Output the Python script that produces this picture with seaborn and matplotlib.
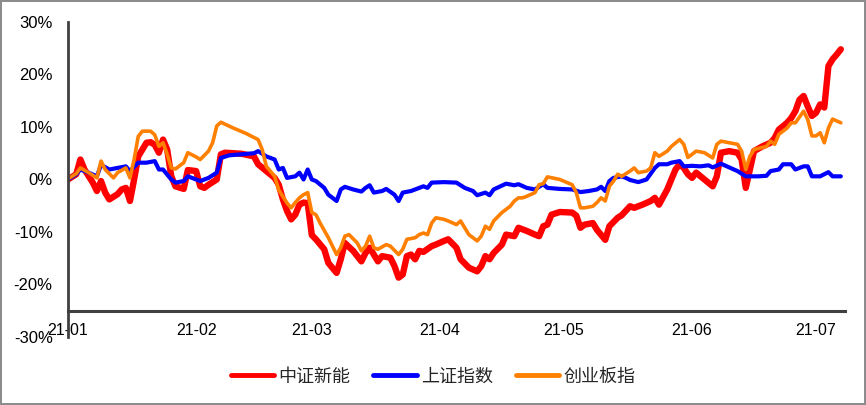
import matplotlib
matplotlib.use("Agg")
import matplotlib.pyplot as plt
import matplotlib.dates as mdates
from matplotlib.ticker import FuncFormatter
import pandas as pd
import seaborn as sns

# ---------------- data (day offset from 2021-01-01, cumulative return %) ----------------
BASE_DATE = "2021-01-01"
series_names = ["中证新能", "上证指数", "创业板指"]

red_day = [0, 2, 3, 4, 6, 7, 8, 9, 10, 12, 13, 14, 15, 16, 17, 19, 20, 21, 22, 23,
           24, 25, 26, 28, 29, 31, 32, 33, 34, 36, 37, 38, 42, 45, 46, 48, 50, 51, 52, 53,
           54, 55, 56, 57, 58, 59, 60, 62, 63, 65, 66, 67, 69, 71, 72, 73, 75, 76, 78, 79,
           80, 81, 82, 83, 84, 85, 86, 88, 89, 91, 92, 94, 95, 97, 99, 100, 101, 102, 103, 105,
           106, 108, 109, 111, 113, 114, 115, 116, 117, 119, 122, 123, 124, 125, 127, 128, 130, 131, 133, 134,
           136, 137, 139, 141, 142, 143, 145, 146, 147, 148, 149, 150, 151, 152, 154, 156, 157, 158, 160, 162,
           163, 164, 165, 166, 168, 170, 171, 172, 174, 175, 176, 177, 178, 179, 180, 181, 182, 183, 184, 185,
           186, 187]
red_val = [0.0, 1.0, 3.8, 1.9, -0.6, -2.2, -0.3, -2.5, -3.8, -2.8, -1.9, -1.6, -4.1, 0.0, 4.4, 7.0, 7.1, 6.6, 5.1, 7.6,
           5.7, 0.6, -1.3, -1.8, 1.8, 1.6, -1.3, -1.6, -1.0, 0.0, 4.8, 5.1, 4.9, 4.4, 2.9, 1.6, 0.3, -1.0, -3.8, -6.0,
           -7.6, -6.7, -4.8, -4.4, -4.5, -10.6, -11.4, -13.3, -15.9, -17.8, -15.2, -12.1, -13.6, -15.6, -14.0, -13.0, -15.6, -14.6, -14.9, -16.5,
           -18.7, -18.1, -14.6, -14.3, -15.2, -13.6, -13.8, -12.7, -12.4, -11.7, -11.4, -13.0, -15.2, -16.8, -17.5, -16.5, -14.6, -15.2, -14.0, -12.4,
           -10.5, -10.8, -9.2, -9.8, -10.5, -10.8, -8.9, -8.6, -6.7, -6.2, -6.3, -6.9, -9.2, -8.6, -8.3, -9.6, -11.5, -8.9, -7.3, -6.8,
           -5.1, -5.4, -4.8, -4.1, -3.5, -4.8, -1.9, 0.0, 1.9, 2.9, 2.2, 1.0, 0.3, 1.3, 0.0, -1.3, 0.6, 5.1, 5.4, 5.1,
           3.8, -1.6, 1.9, 5.4, 6.3, 7.0, 7.9, 9.5, 10.8, 11.7, 13.0, 15.2, 15.9, 13.9, 12.1, 12.7, 14.3, 13.7, 21.6, 22.9,
           23.8, 24.8]

blue_day = [0, 2, 3, 5, 7, 8, 10, 12, 14, 15, 17, 19, 21, 22, 23, 25, 26, 28, 29, 32,
            34, 36, 37, 39, 42, 45, 46, 48, 50, 51, 52, 53, 55, 56, 57, 58, 59, 60, 62, 63,
            65, 66, 67, 69, 71, 72, 73, 74, 76, 77, 79, 80, 81, 83, 84, 86, 87, 88, 91, 94,
            96, 98, 99, 101, 102, 103, 106, 108, 109, 111, 113, 115, 116, 119, 122, 124, 126, 128, 129, 130,
            131, 132, 134, 135, 136, 138, 140, 142, 143, 145, 146, 148, 149, 151, 153, 155, 156, 158, 160, 162,
            164, 167, 169, 170, 172, 173, 175, 176, 178, 179, 180, 182, 183, 184, 185, 187]
blue_val = [0.0, 1.0, 1.9, 1.3, 0.6, 2.8, 1.9, 2.2, 2.5, 1.6, 3.2, 3.2, 3.5, 1.9, 1.9, 0.0, -0.6, -0.3, 0.6, -0.3,
            0.3, 1.3, 4.1, 4.6, 4.8, 5.0, 5.4, 4.4, 3.8, 1.9, 2.2, 0.3, 0.6, 1.3, 0.0, 1.9, 0.0, -0.3, -1.6, -2.9,
            -4.1, -1.9, -1.4, -1.9, -2.3, -1.6, -1.1, -2.5, -2.2, -1.8, -2.9, -4.1, -2.5, -2.2, -1.9, -1.3, -1.6, -0.6, -0.5, -0.6,
            -1.6, -2.2, -3.0, -2.5, -3.0, -1.9, -0.8, -1.1, -0.9, -1.6, -1.9, -0.9, -1.6, -1.8, -1.9, -2.4, -2.2, -1.9, -1.4, -2.2,
            -0.3, 0.3, 0.6, 0.3, -0.1, -0.5, 0.0, 2.2, 2.9, 2.9, 3.2, 3.5, 2.5, 2.6, 2.5, 2.7, 2.3, 3.0, 2.3, 1.6,
            0.6, 0.6, 0.7, 1.6, 1.9, 2.9, 2.9, 1.9, 2.5, 2.5, 0.6, 0.6, 1.0, 1.4, 0.6, 0.6]

orange_day = [0, 2, 3, 5, 7, 8, 9, 11, 12, 14, 15, 16, 17, 18, 20, 21, 22, 23, 24, 25,
              26, 28, 29, 31, 32, 34, 35, 36, 37, 40, 43, 46, 47, 48, 50, 51, 53, 54, 55, 56,
              57, 58, 59, 60, 61, 63, 65, 66, 67, 68, 70, 71, 72, 73, 74, 75, 77, 78, 80, 81,
              82, 84, 85, 86, 87, 88, 89, 91, 92, 94, 95, 96, 97, 99, 100, 101, 102, 103, 105, 106,
              107, 108, 109, 110, 111, 113, 114, 115, 116, 119, 122, 123, 124, 125, 127, 128, 129, 130, 131, 132,
              133, 134, 136, 137, 138, 140, 141, 142, 143, 145, 146, 148, 149, 150, 152, 154, 156, 157, 158, 162,
              163, 164, 165, 166, 169, 170, 171, 172, 174, 175, 176, 178, 179, 180, 181, 182, 183, 184, 185, 187]
orange_val = [0.1, 1.1, 2.2, 1.3, 0.3, 3.5, 1.9, 0.3, 1.3, 2.2, 0.3, 3.8, 8.2, 9.2, 9.2, 8.5, 6.3, 7.0, 4.8, 2.2,
              2.0, 3.2, 5.1, 4.3, 3.8, 5.4, 7.0, 10.2, 10.9, 9.8, 8.8, 7.6, 5.7, 2.5, 0.6, -2.0, -4.5, -5.4, -4.4, -3.5,
              -2.9, -2.5, -6.3, -6.7, -8.3, -11.1, -14.3, -13.0, -10.8, -10.5, -12.1, -13.6, -12.7, -10.8, -13.0, -13.3, -12.4, -12.7, -14.3, -13.3,
              -11.4, -11.1, -10.5, -10.2, -10.5, -8.3, -7.3, -7.6, -7.9, -8.6, -7.9, -9.2, -10.5, -11.7, -10.8, -8.9, -9.5, -7.9, -6.3, -5.7,
              -5.1, -4.1, -3.5, -3.5, -3.2, -2.5, -1.0, -0.8, 0.5, 0.0, -1.0, -2.5, -5.4, -5.4, -5.1, -4.4, -3.5, -4.1, -1.3, -0.3,
              1.0, 0.6, 1.6, 2.2, 1.3, 1.6, 2.2, 5.1, 4.4, 5.4, 6.3, 7.6, 6.7, 4.2, 5.4, 5.1, 4.1, 6.7, 7.3, 6.7,
              5.4, 1.9, 4.4, 5.7, 6.3, 7.3, 6.7, 8.6, 9.8, 10.8, 10.8, 13.0, 11.4, 8.3, 8.3, 8.9, 7.0, 9.8, 11.5, 10.8]

y_ticks = [-30, -20, -10, 0, 10, 20, 30]

# ---------------- styling ----------------
sns.set_style("white")
plt.rcParams["font.family"] = ["Liberation Sans", "Noto Sans CJK SC", "DejaVu Sans"]

colors = ["#FF0000", "#0000FF", "#FF8000"]
widths = [4.6, 3.0, 2.6]
spine_color = "#404040"

fig = plt.figure(figsize=(8.66, 4.05), dpi=100, facecolor="white",
                 edgecolor="#8c8c8c", linewidth=1.5)
ax = fig.add_axes([0.0785, 0.168, 0.8972, 0.7777])

base = pd.Timestamp(BASE_DATE)
all_days = [red_day, blue_day, orange_day]
all_vals = [red_val, blue_val, orange_val]
for name, d, v, c, w in zip(series_names, all_days, all_vals, colors, widths):
    df = pd.DataFrame({"date": base + pd.to_timedelta(d, unit="D"), "value": v})
    sns.lineplot(data=df, x="date", y="value", color=c, linewidth=w, ax=ax,
                 label=name, solid_joinstyle="round", solid_capstyle="round")

ax.set_xlim(base, base + pd.Timedelta(days=188))
ax.set_ylim(-30, 30)
ax.set_yticks(y_ticks)
ax.yaxis.set_major_formatter(FuncFormatter(lambda v, p: f"{int(round(v))}%"))
ax.xaxis.set_major_locator(mdates.MonthLocator())
ax.xaxis.set_major_formatter(mdates.DateFormatter("%y-%m"))
ax.set_xlabel("")
ax.set_ylabel("")
ax.grid(False)

for s in ["top", "right"]:
    ax.spines[s].set_visible(False)
ax.spines["left"].set_color(spine_color)
ax.spines["left"].set_linewidth(2.0)
ax.spines["bottom"].set_color(spine_color)
ax.spines["bottom"].set_linewidth(2.2)
ax.spines["bottom"].set_position(("data", -25))

ax.tick_params(axis="y", length=4, width=1.5, color=spine_color, pad=7,
               labelsize=12, labelcolor="black")
ax.tick_params(axis="x", direction="out", length=3, width=1.5, color=spine_color,
               pad=6, labelsize=11.5, labelcolor="black")

leg = ax.legend(loc="center", bbox_to_anchor=(0.5, 0.069), bbox_transform=fig.transFigure,
                ncol=3, frameon=False, fontsize=13, handlelength=2.4,
                handletextpad=0.22, columnspacing=1.3)
for line in leg.get_lines():
    line.set_linewidth(3.5)
    line.set_solid_capstyle("round")

fig.savefig("out.png", dpi=100, facecolor="white", edgecolor=fig.get_edgecolor())
